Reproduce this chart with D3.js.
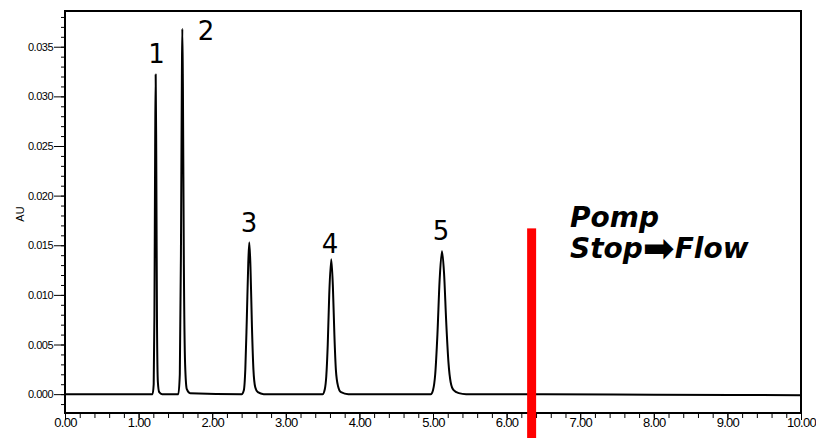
<!DOCTYPE html>
<html>
<head>
<meta charset="utf-8">
<script src="https://cdn.jsdelivr.net/npm/d3@7"></script>
<style>
  body { margin: 0; background: #fff; }
  .tick text { font-family: "Liberation Sans", Arial, sans-serif; }
</style>
</head>
<body>
<script>
// chart size and plot frame
const w = 816;
const h = 438;
const marginTop = 11;
const marginRight = 15;
const marginBottom = 25;
const marginLeft = 65;

// chromatogram trace (minutes, AU)
const traceTime = [
  0.00, 0.50, 1.00, 1.19,
  1.205, 1.215, 1.225, 1.232, 1.240, 1.250, 1.262, 1.28, 1.32,
  1.54, 1.56, 1.575, 1.588, 1.594, 1.602, 1.615, 1.632, 1.655, 1.70,
  2.40, 2.43, 2.45, 2.47, 2.49, 2.504, 2.52, 2.54, 2.56, 2.585, 2.62, 2.70,
  3.50, 3.53, 3.55, 3.57, 3.59, 3.618, 3.64, 3.66, 3.68, 3.71, 3.75, 3.85,
  4.97, 5.00, 5.03, 5.06, 5.09, 5.122, 5.15, 5.18, 5.21, 5.24, 5.28, 5.35, 5.45,
  6.50, 8.00, 10.00
];
const traceAU = [
  0.0000, 0.0000, 0.0000, 0.0000,
  0.0010, 0.0080, 0.0250, 0.0322, 0.0240, 0.0070, 0.0012, 0.0002, 0.0000,
  0.0000, 0.0020, 0.0140, 0.0320, 0.0368, 0.0310, 0.0130, 0.0030, 0.0005, 0.0001,
  0.0000, 0.0004, 0.0025, 0.0075, 0.0132, 0.0153, 0.0128, 0.0068, 0.0025, 0.0007, 0.0002, 0.0000,
  0.0000, 0.0005, 0.0018, 0.0050, 0.0100, 0.0136, 0.0108, 0.0060, 0.0025, 0.0008, 0.0002, 0.0000,
  0.0000, 0.0004, 0.0020, 0.0060, 0.0115, 0.0144, 0.0122, 0.0072, 0.0032, 0.0012, 0.0004, 0.0001, 0.0000,
  0.0000, -0.00005, -0.0001
];

// peak numbers and where they sit (data units)
const peakLabels = ["1", "2", "3", "4", "5"];
const labelTime = [1.243, 1.916, 2.50, 3.60, 5.109];
const labelAU = [0.0334, 0.0357, 0.01634, 0.01422, 0.01553];

// pump stop -> flow marker
const stopTime = 6.34;
const stopTop = 0.0167;

const xTicks = d3.range(0, 10.01, 1);
const xMinor = d3.range(0, 10.01, 0.2);
const yTicks = d3.range(0, 0.0351, 0.005);
const yMinor = d3.range(-0.001, 0.0385, 0.001);

const xScale = d3.scaleLinear().domain([0, 10]).range([marginLeft, w - marginRight]);
const yScale = d3.scaleLinear().domain([-0.0019, 0.0386]).range([h - marginBottom, marginTop]);

const svg = d3.select("body").append("svg").attr("width", w).attr("height", h);

// minor ticks first
svg.append("g")
  .attr("transform", `translate(0,${h - marginBottom})`)
  .call(d3.axisBottom(xScale).tickValues(xMinor).tickSize(5).tickFormat(""))
  .call((g) => g.select(".domain").remove());
svg.append("g")
  .attr("transform", `translate(${marginLeft},0)`)
  .call(d3.axisLeft(yScale).tickValues(yMinor).tickSize(4).tickFormat(""))
  .call((g) => g.select(".domain").remove());

// major ticks and labels
svg.append("g")
  .attr("id", "x-axis")
  .attr("transform", `translate(0,${h - marginBottom})`)
  .call(d3.axisBottom(xScale).tickValues(xTicks).tickSize(7).tickPadding(-2).tickFormat(d3.format(".2f")))
  .call((g) => g.select(".domain").remove())
  .call((g) => g.selectAll(".tick text")
    .attr("fill", "#000")
    .attr("font-size", "13px")
    .attr("letter-spacing", "-0.7px"));
svg.append("g")
  .attr("id", "y-axis")
  .attr("transform", `translate(${marginLeft},0)`)
  .call(d3.axisLeft(yScale).tickValues(yTicks).tickSize(11).tickPadding(1).tickFormat(d3.format(".3f")))
  .call((g) => g.select(".domain").remove())
  .call((g) => g.selectAll(".tick text")
    .attr("fill", "#000")
    .attr("font-size", "11px")
    .attr("letter-spacing", "-0.5px"));

svg.append("text")
  .attr("transform", `translate(24,214) rotate(-90)`)
  .attr("text-anchor", "middle")
  .attr("font-family", "Liberation Sans, Arial, sans-serif")
  .attr("font-size", "11px")
  .text("AU");

// trace
const line = d3.line()
  .x((d, i) => xScale(traceTime[i]))
  .y((d) => yScale(d))
  .curve(d3.curveMonotoneX);

svg.append("path")
  .datum(traceAU)
  .attr("fill", "none")
  .attr("stroke", "#000")
  .attr("stroke-width", 2)
  .attr("stroke-linejoin", "round")
  .attr("d", line);

// plot frame
svg.append("rect")
  .attr("x", marginLeft)
  .attr("y", marginTop)
  .attr("width", w - marginRight - marginLeft)
  .attr("height", h - marginBottom - marginTop)
  .attr("fill", "none")
  .attr("stroke", "#000")
  .attr("stroke-width", 2);

// peak numbers
svg.selectAll(".peak-label")
  .data(peakLabels)
  .enter()
  .append("text")
  .attr("class", "peak-label")
  .attr("x", (d, i) => xScale(labelTime[i]))
  .attr("y", (d, i) => yScale(labelAU[i]))
  .attr("text-anchor", "middle")
  .attr("font-family", "DejaVu Sans, Verdana, sans-serif")
  .attr("font-size", "26px")
  .text((d) => d);

// red stop marker, runs past the axis to the page edge
svg.append("rect")
  .attr("x", xScale(stopTime) - 4.5)
  .attr("y", yScale(stopTop))
  .attr("width", 9)
  .attr("height", h - yScale(stopTop))
  .attr("fill", "#ff0000");

const note = svg.append("text")
  .attr("font-family", "DejaVu Sans, Verdana, sans-serif")
  .attr("font-size", "28px")
  .attr("font-weight", "bold")
  .attr("font-style", "italic");
note.append("tspan").attr("x", 570).attr("y", 227).text("Pomp");
note.append("tspan").attr("x", 570).attr("y", 258).text("Stop");
note.append("tspan")
  .attr("font-size", "38px")
  .attr("font-style", "normal")
  .attr("dy", 3)
  .text("➡");
note.append("tspan").attr("dy", -3).text("Flow");
</script>
</body>
</html>
